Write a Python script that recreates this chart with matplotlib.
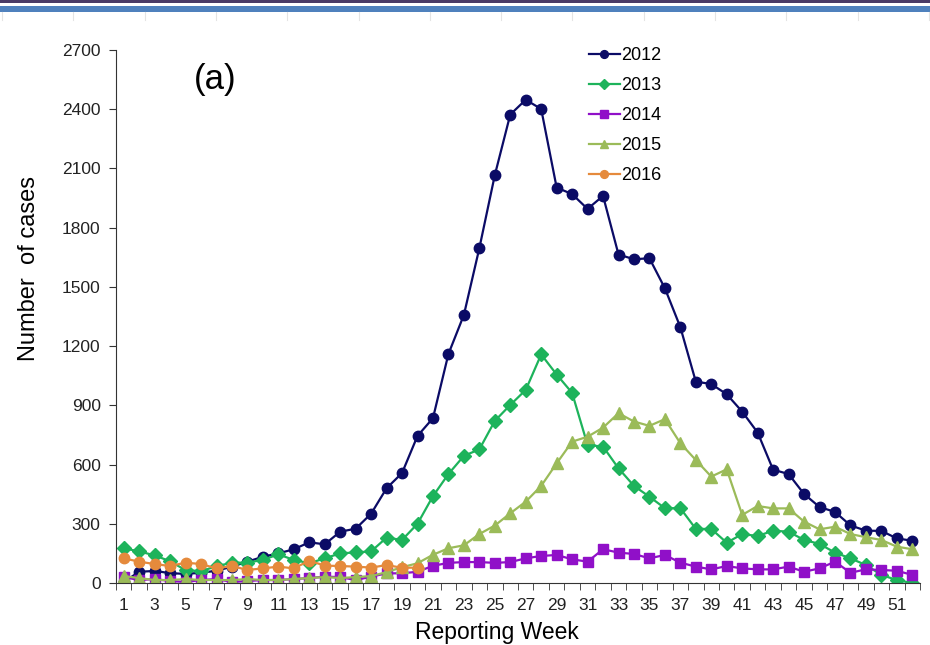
"""
Weekly reported cases, 2012-2016
"""

import matplotlib.pyplot as plt
from matplotlib.patches import Rectangle
from matplotlib.lines import Line2D
import numpy as np

plt.rcParams['font.family'] = ['Liberation Sans', 'DejaVu Sans']

# reporting weeks
weeks = np.arange(1, 53)

# cases per week for each year
cases2012 = [5, 57, 61, 50, 46, 52, 62, 83, 108, 133,
             150, 171, 206, 196, 260, 275, 351, 480, 557, 745,
             835, 1160, 1358, 1696, 2066, 2373, 2448, 2401, 2003, 1970,
             1895, 1961, 1664, 1640, 1645, 1493, 1296, 1020, 1008, 956,
             868, 762, 574, 552, 451, 385, 360, 292, 265, 264,
             226, 214]
cases2013 = [176, 160, 140, 110, 65, 60, 85, 103, 103, 117,
             145, 117, 100, 125, 150, 155, 160, 230, 218, 300,
             440, 552, 644, 677, 821, 902, 978, 1158, 1056, 963,
             699, 691, 581, 492, 437, 379, 379, 274, 274, 204,
             248, 238, 265, 260, 218, 198, 154, 125, 91, 41,
             15, 0]
cases2014 = [30, 15, 20, 10, 5, 15, 20, 5, 10, 15,
             15, 20, 25, 32, 30, 15, 32, 49, 49, 57,
             87, 102, 106, 106, 102, 106, 125, 137, 142, 120,
             108, 171, 154, 147, 125, 142, 103, 83, 69, 86,
             74, 69, 69, 83, 57, 74, 108, 52, 69, 66,
             62, 41]
cases2015 = [35, 25, 15, 15, 20, 15, 15, 15, 20, 15,
             15, 20, 25, 30, 25, 30, 35, 55, 80, 100,
             143, 176, 191, 248, 291, 353, 412, 492, 606, 716,
             741, 787, 860, 818, 796, 830, 708, 623, 539, 576,
             345, 390, 378, 378, 311, 272, 285, 248, 232, 218,
             184, 171]
cases2016 = [125, 108, 96, 86, 103, 96, 74, 86, 66, 74,
             83, 74, 113, 88, 86, 83, 78, 91, 77, 78]

years = ['2012', '2013', '2014', '2015', '2016']
series = [cases2012, cases2013, cases2014, cases2015, cases2016]
colors = ['#0b0b66', '#1db35b', '#9010c8', '#9bbb59', '#e58a3c']
markers = ['o', 'D', 's', '^', 'o']
msizes = [7.5, 7, 7.5, 8, 7.5]

fig = plt.figure(figsize=(9.3, 6.45), dpi=100)

# slide header bars
fig.add_artist(Rectangle((0, 1 - 3 / 645), 1, 3 / 645, transform=fig.transFigure,
                         color='#4a3b66', lw=0))
fig.add_artist(Rectangle((0, 1 - 12 / 645), 1, 6 / 645, transform=fig.transFigure,
                         color='#4f81bd', lw=0))
for xp in np.arange(2, 931, 71.3):
    fig.add_artist(Line2D([xp / 930, xp / 930], [1 - 20 / 645, 1 - 12 / 645],
                          transform=fig.transFigure, color='#e4e4e4', lw=0.8))

ax = fig.add_axes([116 / 930, 62 / 645, 804 / 930, 533 / 645])

for i in range(len(years)):
    y = series[i]
    ax.plot(weeks[:len(y)], y, color=colors[i], marker=markers[i],
            markersize=msizes[i], lw=1.6, label=years[i])

ax.set_xlim(0.5, 52.5)
ax.set_ylim(0, 2700)
ax.set_yticks(np.arange(0, 2701, 300))
ax.set_xticks(np.arange(1, 53, 2))
ax.set_xticks(np.arange(0.5, 53, 1), minor=True)
ax.tick_params(axis='x', which='major', length=0, pad=11, labelsize=12.5, labelcolor='#222222')
ax.tick_params(axis='x', which='minor', length=5, direction='out', color='#333333')
ax.tick_params(axis='y', length=5, direction='out', pad=6, labelsize=12.5,
               labelcolor='#222222', color='#333333')
for s in ['top', 'right']:
    ax.spines[s].set_visible(False)
for s in ['left', 'bottom']:
    ax.spines[s].set_color('#333333')

ax.set_ylabel('Number  of cases', fontsize=17)
ax.yaxis.set_label_coords(-0.095, 0.59)
fig.text(497 / 930, 13 / 645, 'Reporting Week', ha='center', va='center', fontsize=16.5)

ax.text(0.123, 0.944, '(a)', transform=ax.transAxes, ha='center', va='center', fontsize=25)

ax.legend(loc='upper left', bbox_to_anchor=(580 / 930, 1 - 38 / 645),
          bbox_transform=fig.transFigure, frameon=False, fontsize=13,
          markerscale=0.75, handlelength=1.7, handletextpad=0.1,
          labelspacing=0.72, borderpad=0)

plt.savefig('out.png', dpi=100)
